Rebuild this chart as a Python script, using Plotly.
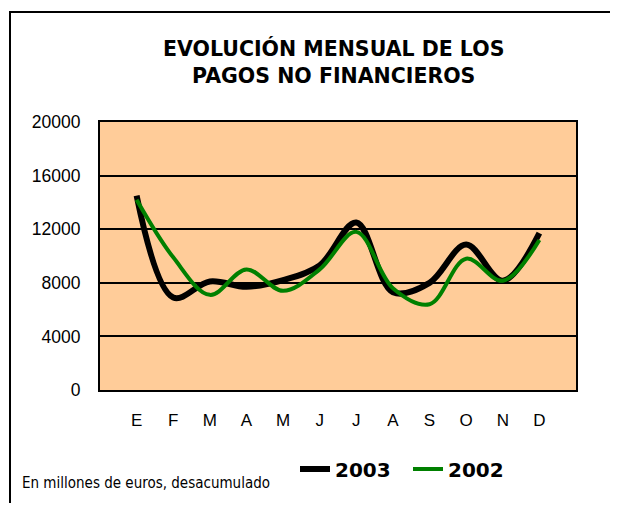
import plotly.graph_objects as go

months = ["E", "F", "M", "A", "M", "J", "J", "A", "S", "O", "N", "D"]
pagos_2003 = [14500, 6900, 8100, 7700, 8200, 9300, 12500, 7300, 8000, 10850, 8150, 11700]
pagos_2002 = [14200, 9900, 7100, 9000, 7400, 9000, 11800, 7600, 6400, 9800, 8150, 11200]
y_ticks = [0, 4000, 8000, 12000, 16000, 20000]
y_ticktext = ["0", "4000", "8000", "12000", "16000", "20000"]

OFF = 8  # page body margin
W, H = 618 - OFF, 506 - OFF
L, T = 100 - OFF, 122 - OFF
PW = 576 - 100
PH = 390 - 122
R = W - L - PW
B = H - T - PH

def px(x):
    return (x - 100) / PW

def py(y):
    return (390 - y) / PH

FONT = "'DejaVu Sans Condensed', Tahoma, 'Liberation Sans', sans-serif"
TICK = "'Liberation Sans', Arial, sans-serif"
BOLD = "'DejaVu Sans', Verdana, sans-serif"

idx = list(range(len(months)))

fig = go.Figure()
fig.add_trace(go.Scatter(x=idx, y=pagos_2003, name="2003", mode="lines",
                         line=dict(color="#000000", width=6, shape="spline", smoothing=1.0)))
fig.add_trace(go.Scatter(x=idx, y=pagos_2002, name="2002", mode="lines",
                         line=dict(color="#008000", width=4, shape="spline", smoothing=1.0)))

fig.update_layout(
    width=W, height=H,
    margin=dict(l=L, r=R, t=T, b=B),
    paper_bgcolor="white",
    plot_bgcolor="#FFCC99",
    showlegend=True,
    legend=dict(orientation="h", x=px(295), xanchor="left", y=py(469), yanchor="middle",
                font=dict(family=BOLD, size=20, color="black", weight="bold"),
                itemwidth=30, entrywidth=68, bgcolor="rgba(0,0,0,0)"),
    xaxis=dict(range=[-1, 12], tickvals=idx, ticktext=months, showgrid=False,
               zeroline=False, showline=True, linecolor="black", linewidth=2, mirror=True,
               ticks="", ticklabelstandoff=14,
               tickfont=dict(family=TICK, size=17, color="black"), fixedrange=True),
    yaxis=dict(range=[0, 20000], tickvals=y_ticks, ticktext=y_ticktext, showgrid=True,
               gridcolor="black", gridwidth=1.5, zeroline=False, showline=True,
               linecolor="black", linewidth=2, mirror=True, ticks="", ticklabelstandoff=14,
               tickfont=dict(family=TICK, size=17.5, color="black"), fixedrange=True),
    annotations=[
        dict(text="<b>EVOLUCIÓN MENSUAL DE LOS<br>PAGOS NO FINANCIEROS</b>",
             x=px(333), y=py(62), xref="paper", yref="paper", xanchor="center", yanchor="middle",
             showarrow=False, font=dict(family=BOLD, size=20.5, color="black")),
        dict(text="En millones de euros, desacumulado", x=px(20), y=py(483), xref="paper",
             yref="paper", xanchor="left", yanchor="middle", showarrow=False,
             font=dict(family=FONT, size=15, color="black")),
    ],
    shapes=[
        dict(type="line", xref="paper", yref="paper", x0=px(9), x1=px(625), y0=py(12), y1=py(12),
             line=dict(color="black", width=2)),
        dict(type="line", xref="paper", yref="paper", x0=px(10), x1=px(10), y0=py(11), y1=py(503),
             line=dict(color="black", width=2)),
    ],
)

fig.write_html("out.html")
